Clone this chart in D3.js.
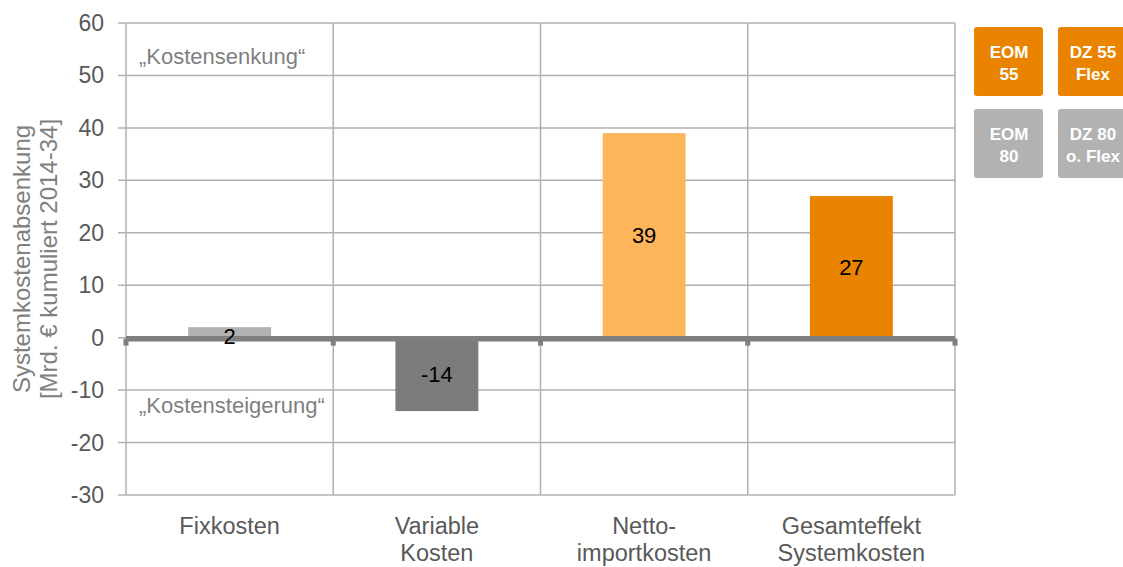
<!DOCTYPE html>
<html><head><meta charset="utf-8">
<script src="https://cdn.jsdelivr.net/npm/d3@7"></script>
<style>body{margin:0;background:#fff}svg{display:block}</style>
</head><body>
<svg id="c" width="1123" height="567"></svg>
<script>
const categories = [["Fixkosten"], ["Variable", "Kosten"], ["Netto-", "importkosten"], ["Gesamteffekt", "Systemkosten"]];
const values = [2, -14, 39, 27];
const barColors = ["#b2b2b2", "#7b7c7b", "#fdb55a", "#e98300"];
const yTicks = [-30, -20, -10, 0, 10, 20, 30, 40, 50, 60];
const legendItems = [
  {lines: ["EOM", "55"], color: "#e98300"},
  {lines: ["DZ 55", "Flex"], color: "#e98300"},
  {lines: ["EOM", "80"], color: "#b2b2b2"},
  {lines: ["DZ 80", "o. Flex"], color: "#b2b2b2"}
];
const yTitle = ["Systemkostenabsenkung", "[Mrd. € kumuliert 2014-34]"];

const svg = d3.select("#c");
const font = "'Liberation Sans', Arial, sans-serif";
const L = 126, R = 955, T = 23, B = 495;
const x = d3.scaleBand().domain(d3.range(categories.length)).range([L, R]).paddingInner(0.6).paddingOuter(0.3);
const xg = d3.scaleBand().domain(d3.range(categories.length)).range([L, R]);
const y = d3.scaleLinear().domain([-30, 60]).range([B, T]);

// horizontal gridlines
svg.append("g").selectAll("line").data(yTicks).join("line")
  .attr("x1", L - 8).attr("x2", R).attr("y1", d => y(d)).attr("y2", d => y(d))
  .attr("stroke", "#b0b0b0").attr("stroke-width", 1.5);
// vertical gridlines
const vx = xg.domain().map(i => xg(i)).concat([R]);
svg.append("g").selectAll("line").data(vx).join("line")
  .attr("x1", d => d).attr("x2", d => d).attr("y1", T).attr("y2", B)
  .attr("stroke", "#b0b0b0").attr("stroke-width", 1.5);

// y tick labels
svg.append("g").selectAll("text").data(yTicks).join("text")
  .attr("x", 104).attr("y", d => y(d)).attr("dy", "0.35em")
  .attr("text-anchor", "end").attr("font-family", font).attr("font-size", 23)
  .attr("fill", "#595959").text(d => d);

// bars
svg.append("g").selectAll("rect").data(values).join("rect")
  .attr("x", (d, i) => x(i)).attr("width", x.bandwidth())
  .attr("y", d => y(Math.max(0, d))).attr("height", d => Math.abs(y(d) - y(0)))
  .attr("fill", (d, i) => barColors[i]);

// zero line
svg.append("line").attr("x1", L).attr("x2", R).attr("y1", y(0) + 1).attr("y2", y(0) + 1)
  .attr("stroke", "#7f7f7f").attr("stroke-width", 5.5);
svg.append("g").selectAll("rect").data(vx).join("rect")
  .attr("x", d => d - 2.5).attr("y", y(0) + 1).attr("width", 5).attr("height", 7)
  .attr("fill", "#7f7f7f");

// value labels
svg.append("g").selectAll("text").data(values).join("text")
  .attr("x", (d, i) => x(i) + x.bandwidth() / 2)
  .attr("y", d => d === 2 ? y(0) - 1 : y(d / 2)).attr("dy", "0.35em")
  .attr("text-anchor", "middle").attr("font-family", font).attr("font-size", 22)
  .attr("fill", "#000").text(d => d);

// category labels
const cl = svg.append("g").selectAll("text").data(categories).join("text")
  .attr("x", (d, i) => xg(i) + xg.bandwidth() / 2).attr("y", 534)
  .attr("text-anchor", "middle").attr("font-family", font).attr("font-size", 23.5)
  .attr("fill", "#595959");
cl.selectAll("tspan").data(d => d).join("tspan")
  .attr("x", function() { return this.parentNode.getAttribute("x"); })
  .attr("dy", (d, j) => j === 0 ? 0 : 27).text(d => d);

// annotations
svg.append("text").attr("x", 139).attr("y", 64).attr("font-family", font).attr("font-size", 22)
  .attr("fill", "#7f7f7f").text("„Kostensenkung“");
svg.append("text").attr("x", 139).attr("y", 413).attr("font-family", font).attr("font-size", 22)
  .attr("fill", "#7f7f7f").text("„Kostensteigerung“");

// y title
const yt = svg.append("text").attr("transform", "translate(37,259) rotate(-90)")
  .attr("text-anchor", "middle").attr("font-family", font).attr("font-size", 24)
  .attr("fill", "#808080");
yt.selectAll("tspan").data(yTitle).join("tspan").attr("x", 0)
  .attr("dy", (d, j) => j === 0 ? -7 : 27).text(d => d);

// legend boxes
const lg = svg.append("g").selectAll("g").data(legendItems).join("g")
  .attr("transform", (d, i) => `translate(${974 + (i % 2) * 84},${27 + Math.floor(i / 2) * 82})`);
lg.append("rect").attr("width", 69).attr("height", 69).attr("rx", 3).attr("fill", d => d.color);
lg.append("text").attr("text-anchor", "middle").attr("font-family", font).attr("font-size", 17)
  .attr("font-weight", "bold").attr("fill", "#fff")
  .selectAll("tspan").data(d => d.lines).join("tspan").attr("x", 35)
  .attr("y", (d, j) => 31 + j * 22).text(d => d);
</script>
</body></html>
